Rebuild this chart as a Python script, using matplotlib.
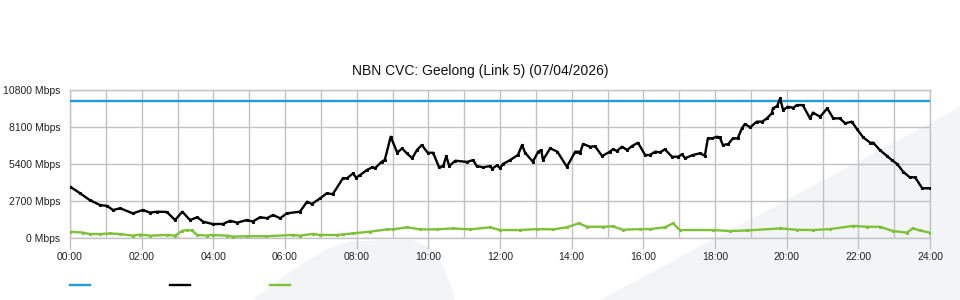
import matplotlib
matplotlib.use('Agg')
import matplotlib.pyplot as plt
from matplotlib.lines import Line2D
from matplotlib.patches import Polygon

plt.rcParams['font.family'] = ['Liberation Sans', 'DejaVu Sans']

title = 'NBN CVC: Geelong (Link 5) (07/04/2026)'
capacity = 10000

# minutes since midnight, Mbps
used_t = [0, 17, 33, 50, 62, 72, 84, 105, 122, 134, 146, 162, 176, 188, 201, 213, 223, 239,
          256, 268, 280, 296, 306, 318, 330, 340, 352, 363, 385, 397, 405, 419, 430, 440,
          457, 464, 474, 479, 486, 497, 506, 511, 522, 527, 537, 548, 556, 564, 573, 581,
          589, 599, 608, 618, 625, 630, 635, 645, 665, 675, 681, 692, 703, 707, 715, 720,
          725, 737, 750, 757, 762, 775, 784, 789, 792, 804, 816, 832, 846, 851, 854, 859,
          871, 879, 891, 904, 909, 916, 924, 933, 941, 951, 963, 971, 980, 988, 996, 1008,
          1018, 1025, 1030, 1043, 1055, 1063, 1068, 1075, 1083, 1088, 1093, 1102, 1110,
          1118, 1125, 1130, 1139, 1150, 1159, 1167, 1175, 1177, 1184, 1189, 1194, 1202,
          1211, 1217, 1227, 1239, 1244, 1256, 1268, 1278, 1289, 1298, 1309, 1318, 1328,
          1340, 1345, 1356, 1368, 1376, 1385, 1395, 1406, 1415, 1427, 1440]
used = [3750, 3260, 2770, 2410, 2340, 2040, 2170, 1800, 2040, 1850, 1920, 1900, 1310, 1920,
        1310, 1510, 1190, 1020, 1020, 1260, 1120, 1310, 1200, 1510, 1450, 1680, 1440, 1800,
        1920, 2650, 2480, 2900, 3260, 3200, 4360, 4360, 4720, 4400, 4600, 4960, 5160, 5100,
        5570, 5690, 7390, 6220, 6540, 6180, 5820, 6420, 6790, 6220, 6220, 5160, 5250, 5980,
        5250, 5640, 5550, 5690, 5250, 5160, 5250, 5060, 5300, 5100, 5400, 5690, 6060, 6790,
        6220, 5570, 6300, 6420, 5690, 6540, 6300, 5200, 6300, 6300, 6200, 6860, 6660, 6700,
        5980, 6300, 6470, 6350, 6660, 6420, 6710, 6950, 6060, 6060, 6300, 6250, 6470, 5930,
        5930, 6100, 5820, 6060, 6180, 6000, 7270, 7270, 7390, 7350, 6790, 6850, 7270, 7270,
        8000, 8320, 8080, 8490, 8490, 8730, 9100, 9460, 9630, 10190, 9340, 9580, 9500, 9700,
        9700, 8730, 9150, 8850, 9460, 8730, 8730, 8370, 8490, 7930, 7350, 6950, 6950, 6420,
        5980, 5690, 5400, 4840, 4430, 4430, 3630, 3630]

other_t = [0, 22, 33, 50, 67, 84, 105, 117, 134, 162, 176, 188, 196, 204, 213, 229, 239, 263,
           273, 296, 329, 373, 385, 407, 419, 447, 457, 474, 502, 531, 541, 564, 586, 614,
           641, 670, 703, 720, 753, 782, 809, 832, 852, 866, 892, 909, 926, 954, 971, 996,
           1010, 1021, 1077, 1105, 1134, 1189, 1217, 1244, 1273, 1311, 1334, 1356, 1378,
           1401, 1411, 1423, 1440]
other = [460, 390, 290, 290, 330, 290, 170, 250, 170, 220, 170, 530, 580, 550, 220, 180, 220,
         170, 100, 130, 130, 220, 170, 300, 220, 220, 260, 340, 460, 630, 630, 780, 630, 630,
         700, 630, 780, 580, 580, 650, 630, 780, 1070, 820, 820, 850, 600, 650, 650, 780,
         1070, 580, 580, 510, 550, 700, 600, 580, 650, 880, 820, 820, 510, 390, 700, 550, 390]

y_ticks = [0, 2700, 5400, 8100, 10800]
x_ticks = list(range(0, 1441, 120))
x_labels = ['%02d:00' % (m // 60) for m in x_ticks]

blue = '#1e9fdc'
green = '#7fc136'
grid = '#c2c2c2'

fig = plt.figure(figsize=(9.6, 3.0), dpi=100)

# faint background swooshes
wm = '#f3f4f6'
arch = [(252, 300), (275, 283), (300, 265), (325, 250), (347, 242), (380, 240), (413, 240),
        (435, 250), (445, 270), (452, 290), (455, 300)]
band = [(600, 300), (960, 107), (960, 300)]
for shape in (arch, band):
    fig.patches.append(Polygon([(x / 960, 1 - y / 300) for x, y in shape], closed=True,
                               transform=fig.transFigure, facecolor=wm, edgecolor='none',
                               zorder=-5))

ax = fig.add_axes([70 / 960, 62 / 300, 860 / 960, 148 / 300])
ax.set_facecolor('none')
ax.set_zorder(2)

ax.plot([0, 1440], [capacity, capacity], color=blue, lw=1.7, zorder=3)
ax.plot(used_t, used, color='black', lw=1.7, marker='s', ms=1.2, zorder=4)
ax.plot(other_t, other, color=green, lw=1.7, marker='s', ms=1.2, zorder=3)

ax.set_xlim(0, 1440)
ax.set_ylim(0, 10800)
ax.set_yticks(y_ticks)
ax.set_yticklabels(['%d Mbps' % v for v in y_ticks], fontsize=7.5, color='#222222')
ax.set_xticks(x_ticks)
ax.set_xticklabels(x_labels, fontsize=7.5, color='#222222')
ax.set_xticks(range(60, 1440, 120), minor=True)
ax.tick_params(axis='y', length=0, pad=7)
ax.tick_params(axis='x', which='major', length=8, width=1, color=grid, pad=2)
ax.tick_params(axis='x', which='minor', length=0)
ax.grid(True, which='both', color=grid, lw=1)
for s in ax.spines.values():
    s.set_color(grid)
    s.set_linewidth(1)

fig.text(0.5, 1 - 71 / 300, title, ha='center', va='center', fontsize=10, color='#111111')

# legend keys
for x0, c in ((70, blue), (170, 'black'), (270, green)):
    fig.lines.append(Line2D([x0 / 960, (x0 + 20) / 960], [1 - 285 / 300] * 2, color=c,
                            lw=1.7, transform=fig.transFigure))

fig.savefig('out.png', dpi=100)
